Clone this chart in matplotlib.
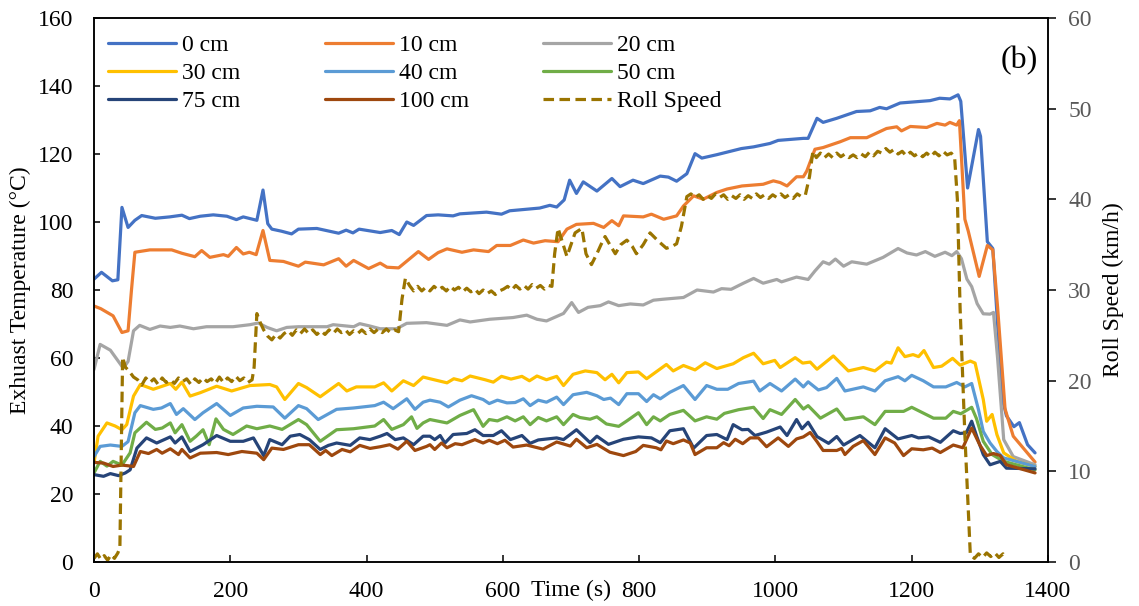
import matplotlib
matplotlib.use("Agg")
import matplotlib.pyplot as plt
import matplotlib.transforms as mtransforms

plt.rcParams["font.family"] = ["Liberation Serif", "DejaVu Serif"]

# Exhaust temperature (°C) at each probe distance: (time s, temperature)
probe_0cm = [
    (0, 83.2), (11, 85.2), (27, 82.7), (35, 83.0), (41, 104.3), (50, 98.4), (60, 100.5),
    (70, 101.9), (90, 101.1), (111, 101.5), (129, 102.0), (140, 101.0), (156, 101.7),
    (175, 102.1), (195, 101.7), (209, 100.7), (219, 101.5), (239, 100.5), (248, 109.4),
    (255, 99.5), (261, 97.9), (275, 97.3), (290, 96.5), (300, 97.9), (327, 98.1),
    (359, 96.7), (370, 97.6), (380, 96.8), (389, 97.9), (420, 96.9), (437, 97.5),
    (448, 96.3), (459, 100.0), (469, 99.0), (488, 101.9), (505, 102.1), (527, 101.8),
    (537, 102.4), (576, 102.9), (598, 102.3), (610, 103.3), (654, 104.1), (669, 104.9),
    (679, 104.4), (690, 106.5), (698, 112.3), (708, 108.4), (718, 111.8), (738, 109.1),
    (760, 112.8), (772, 110.4), (791, 112.3), (806, 111.3), (831, 113.5), (843, 113.2),
    (855, 112.0), (870, 114.2), (882, 120.1), (892, 118.8), (914, 119.8), (950, 121.6),
    (968, 122.1), (992, 123.1), (1004, 124.0), (1041, 124.6), (1048, 124.6), (1061, 130.5),
    (1070, 129.3), (1090, 130.5), (1119, 132.5), (1139, 132.7), (1153, 133.7),
    (1163, 133.3), (1183, 135.0), (1227, 135.7), (1241, 136.4), (1256, 136.2),
    (1268, 137.4), (1272, 135.5), (1282, 110.0), (1298, 127.2), (1301, 125.2),
    (1311, 94.2), (1319, 92.2), (1326, 70.0), (1333, 48.0), (1339, 43.0), (1350, 39.8),
    (1358, 41.0), (1370, 34.5), (1381, 32.1),
]

probe_10cm = [
    (0, 75.3), (10, 74.5), (28, 72.4), (41, 67.5), (50, 68.0), (55, 80.0), (60, 91.1),
    (82, 91.8), (114, 91.8), (129, 90.8), (148, 89.8), (158, 91.6), (170, 89.6),
    (190, 90.4), (197, 89.9), (209, 92.5), (219, 90.6), (228, 91.1), (238, 90.4),
    (248, 97.5), (258, 88.7), (278, 88.4), (300, 87.0), (310, 88.2), (337, 87.4),
    (359, 89.2), (370, 87.0), (381, 88.7), (403, 86.3), (420, 87.9), (430, 86.7),
    (447, 86.5), (476, 91.3), (491, 89.0), (505, 91.0), (518, 92.1), (540, 91.1),
    (557, 91.8), (579, 91.3), (591, 93.1), (611, 93.1), (630, 94.7), (645, 93.8),
    (662, 94.5), (681, 94.2), (694, 97.9), (708, 99.3), (733, 99.6), (748, 98.4),
    (760, 100.4), (770, 98.9), (777, 101.8), (806, 101.5), (818, 102.3), (836, 100.8),
    (855, 101.8), (865, 104.7), (880, 107.7), (894, 106.7), (914, 108.7), (929, 109.7),
    (951, 110.6), (982, 111.1), (997, 112.1), (1007, 111.6), (1017, 110.6), (1031, 113.3),
    (1041, 113.3), (1046, 115.0), (1058, 121.4), (1070, 121.9), (1095, 123.6),
    (1110, 124.8), (1134, 124.8), (1163, 127.5), (1178, 128.0), (1185, 126.8),
    (1198, 128.1), (1222, 127.8), (1237, 129.0), (1249, 128.5), (1256, 129.3),
    (1266, 128.5), (1270, 129.8), (1278, 100.8), (1283, 97.3), (1299, 84.0),
    (1311, 93.1), (1319, 91.8), (1326, 75.0), (1337, 45.0), (1349, 37.0), (1381, 29.4),
]

probe_20cm = [
    (0, 56.6), (9, 64.0), (24, 62.3), (43, 57.0), (50, 59.0), (58, 68.0), (67, 69.6),
    (82, 68.4), (97, 69.4), (112, 69.0), (126, 69.4), (146, 68.6), (165, 69.2),
    (204, 69.2), (229, 69.8), (241, 70.3), (254, 69.0), (268, 68.0), (283, 69.0),
    (300, 69.2), (342, 69.2), (351, 69.8), (381, 69.2), (390, 70.1), (405, 69.4),
    (420, 68.6), (444, 68.6), (459, 70.2), (488, 70.4), (518, 69.6), (537, 71.2),
    (552, 70.6), (581, 71.4), (615, 71.9), (635, 72.6), (650, 71.4), (664, 70.9),
    (689, 73.1), (701, 76.3), (711, 73.4), (725, 74.9), (743, 75.4), (755, 76.5),
    (770, 75.4), (787, 75.9), (806, 75.6), (821, 77.0), (836, 77.3), (865, 77.8),
    (885, 80.0), (909, 79.4), (921, 80.4), (935, 80.2), (953, 82.0), (968, 83.4),
    (982, 82.0), (1002, 83.1), (1009, 82.4), (1031, 83.8), (1048, 83.1), (1058, 85.6),
    (1070, 88.3), (1079, 87.6), (1088, 89.1), (1100, 87.0), (1112, 88.3), (1134, 87.6),
    (1158, 89.6), (1180, 92.2), (1193, 90.9), (1207, 90.3), (1220, 91.3), (1234, 89.9),
    (1249, 91.1), (1259, 90.1), (1266, 91.3), (1273, 89.2), (1281, 83.2), (1288, 81.0),
    (1296, 76.0), (1305, 73.0), (1315, 72.9), (1320, 73.4), (1326, 60.0), (1335, 36.0),
    (1349, 31.0), (1381, 28.6),
]

probe_30cm = [
    (0, 29.1), (6, 37.0), (19, 40.9), (31, 40.0), (41, 38.9), (48, 40.4), (58, 48.8),
    (68, 52.2), (87, 50.8), (112, 52.5), (120, 50.8), (129, 52.9), (141, 48.8),
    (156, 49.8), (180, 51.7), (202, 50.3), (229, 51.9), (258, 52.2), (268, 51.5),
    (280, 47.8), (300, 52.5), (312, 51.3), (332, 48.6), (359, 52.5), (371, 50.3),
    (385, 51.5), (412, 51.5), (425, 52.7), (437, 50.3), (454, 53.3), (469, 51.9),
    (483, 54.4), (493, 53.9), (518, 52.7), (528, 53.9), (540, 53.3), (552, 54.7),
    (574, 53.6), (586, 52.9), (598, 54.6), (612, 53.8), (628, 54.6), (639, 53.3),
    (650, 54.7), (664, 53.6), (679, 54.6), (689, 51.9), (703, 55.2), (721, 56.2),
    (738, 55.7), (750, 53.6), (760, 55.2), (770, 52.7), (782, 55.7), (799, 55.9),
    (811, 53.9), (840, 58.1), (850, 56.2), (865, 57.8), (882, 56.5), (897, 58.6),
    (914, 56.9), (938, 58.3), (953, 60.1), (968, 61.4), (982, 58.3), (999, 59.3),
    (1007, 57.2), (1029, 60.1), (1040, 58.5), (1051, 58.8), (1061, 56.7), (1085, 60.6),
    (1107, 56.2), (1129, 57.2), (1146, 56.2), (1163, 58.8), (1170, 58.5), (1180, 63.0),
    (1190, 60.4), (1202, 61.0), (1210, 60.4), (1218, 62.2), (1232, 57.2), (1244, 57.6),
    (1260, 59.9), (1271, 57.9), (1286, 59.1), (1293, 58.5), (1305, 47.8), (1310, 41.4),
    (1318, 43.4), (1325, 37.5), (1335, 32.1), (1354, 29.6), (1381, 28.1),
]

probe_40cm = [
    (0, 31.0), (9, 34.0), (24, 34.4), (41, 34.0), (50, 35.4), (60, 43.9), (68, 46.0),
    (87, 44.9), (99, 45.3), (112, 46.6), (121, 43.4), (131, 45.1), (148, 41.9),
    (160, 43.9), (180, 46.6), (200, 43.1), (219, 45.3), (239, 45.8), (263, 45.6),
    (280, 42.3), (300, 46.0), (312, 45.1), (329, 41.9), (356, 44.9), (381, 45.3),
    (412, 46.0), (425, 47.0), (439, 45.1), (459, 48.0), (471, 44.9), (483, 47.0),
    (493, 47.6), (508, 47.0), (520, 45.6), (537, 47.6), (554, 48.9), (571, 47.8),
    (580, 46.6), (592, 47.6), (606, 46.8), (618, 46.9), (630, 48.0), (640, 46.0),
    (652, 47.6), (664, 47.0), (679, 48.5), (689, 46.3), (703, 49.2), (723, 49.9),
    (738, 48.9), (748, 47.8), (758, 48.2), (770, 46.3), (782, 49.5), (799, 49.5),
    (811, 47.2), (821, 49.2), (831, 48.0), (845, 49.9), (865, 51.9), (882, 47.8),
    (899, 51.9), (914, 50.8), (930, 50.8), (946, 52.5), (968, 53.2), (977, 50.3),
    (992, 52.5), (1009, 50.3), (1029, 53.8), (1041, 51.5), (1048, 53.0), (1063, 50.6),
    (1075, 51.3), (1090, 54.0), (1102, 50.3), (1129, 51.5), (1146, 50.3), (1161, 53.3),
    (1180, 54.5), (1190, 53.3), (1200, 54.9), (1217, 53.3), (1232, 51.5), (1250, 51.5),
    (1266, 52.8), (1278, 51.5), (1288, 52.5), (1298, 44.8), (1305, 38.4), (1315, 35.0),
    (1325, 32.5), (1335, 30.6), (1381, 28.1),
]

probe_50cm = [
    (0, 26.2), (9, 29.6), (19, 28.2), (28, 29.6), (41, 28.5), (53, 32.1), (60, 38.0),
    (77, 41.1), (90, 39.0), (100, 39.4), (112, 40.9), (119, 38.0), (129, 40.4),
    (141, 35.5), (150, 37.0), (160, 38.9), (169, 34.5), (179, 42.1), (190, 39.0),
    (204, 37.5), (224, 40.0), (239, 39.2), (258, 40.0), (276, 39.0), (300, 41.9),
    (312, 40.4), (332, 35.5), (356, 38.9), (381, 39.2), (412, 40.0), (425, 41.9),
    (437, 39.0), (454, 40.4), (466, 42.7), (474, 39.3), (483, 40.9), (493, 41.9),
    (518, 40.9), (537, 43.1), (557, 44.8), (571, 39.9), (580, 41.9), (592, 41.5),
    (606, 42.7), (618, 41.5), (630, 42.7), (640, 40.4), (652, 42.5), (664, 41.5),
    (679, 42.7), (689, 40.4), (703, 43.4), (713, 42.5), (728, 42.0), (738, 42.7),
    (752, 40.6), (770, 39.9), (782, 41.5), (799, 43.9), (811, 40.4), (821, 42.7),
    (831, 41.5), (845, 43.4), (865, 44.6), (882, 41.5), (899, 42.7), (914, 42.0),
    (925, 43.7), (946, 44.8), (968, 45.5), (982, 42.2), (992, 44.8), (1009, 43.4),
    (1029, 47.8), (1041, 45.0), (1048, 46.0), (1066, 42.3), (1090, 45.0), (1102, 41.9),
    (1129, 42.7), (1146, 40.4), (1161, 44.3), (1188, 44.3), (1200, 45.5), (1232, 42.3),
    (1250, 42.3), (1261, 44.3), (1272, 43.6), (1288, 45.5), (1295, 42.2), (1305, 35.5),
    (1318, 31.6), (1335, 29.6), (1381, 27.1),
]

probe_75cm = [
    (0, 25.7), (14, 25.2), (24, 26.0), (36, 25.4), (46, 26.2), (53, 27.1), (63, 33.5),
    (77, 36.5), (92, 35.0), (112, 36.8), (119, 35.0), (129, 36.8), (141, 32.5),
    (160, 34.5), (180, 37.2), (200, 35.5), (219, 35.5), (234, 36.5), (249, 31.3),
    (258, 36.0), (276, 34.5), (288, 37.0), (302, 37.5), (316, 36.0), (332, 33.1),
    (344, 34.3), (356, 35.0), (376, 34.3), (390, 36.5), (405, 36.0), (420, 37.0),
    (430, 37.8), (442, 36.0), (454, 36.5), (469, 34.5), (483, 37.0), (493, 37.0),
    (500, 36.0), (508, 37.2), (515, 35.0), (527, 37.5), (547, 37.8), (559, 38.9),
    (571, 37.2), (586, 37.2), (598, 38.6), (611, 36.0), (628, 37.2), (640, 34.9),
    (652, 35.9), (679, 36.5), (689, 36.0), (708, 38.9), (728, 35.1), (738, 37.0),
    (755, 34.6), (777, 36.1), (799, 36.8), (818, 36.5), (831, 35.1), (845, 38.6),
    (865, 39.2), (880, 33.5), (899, 37.2), (914, 37.5), (929, 36.0), (938, 40.4),
    (951, 38.9), (960, 39.0), (970, 37.2), (987, 38.2), (1007, 39.7), (1017, 37.2),
    (1031, 41.9), (1039, 39.2), (1048, 41.1), (1061, 36.9), (1078, 34.9), (1090, 36.9),
    (1100, 34.4), (1124, 37.2), (1146, 33.6), (1161, 39.2), (1180, 36.2), (1200, 37.2),
    (1210, 36.5), (1225, 36.8), (1242, 35.2), (1261, 38.6), (1271, 37.8), (1280, 38.0),
    (1288, 41.4), (1295, 37.2), (1305, 31.6), (1315, 28.6), (1330, 29.6), (1339, 27.6),
    (1381, 27.4),
]

probe_100cm = [
    (0, 29.3), (14, 29.1), (28, 28.1), (41, 28.5), (50, 28.3), (58, 28.1), (68, 32.5),
    (80, 31.9), (92, 33.1), (100, 32.0), (112, 33.3), (124, 31.6), (129, 33.1),
    (141, 30.6), (156, 32.0), (180, 32.2), (197, 31.6), (217, 32.5), (239, 32.0),
    (249, 30.1), (261, 33.5), (278, 33.1), (300, 34.5), (316, 34.5), (332, 31.6),
    (340, 32.8), (349, 31.3), (364, 33.1), (376, 32.4), (390, 34.3), (405, 33.4),
    (420, 33.9), (434, 34.5), (446, 33.2), (459, 35.5), (471, 32.8), (488, 34.0),
    (493, 34.5), (500, 33.1), (510, 35.0), (518, 33.6), (530, 34.8), (540, 34.5),
    (559, 36.0), (571, 35.0), (580, 35.8), (592, 34.8), (603, 35.8), (615, 33.8),
    (635, 34.4), (659, 33.2), (679, 35.3), (699, 34.1), (708, 36.1), (723, 33.6),
    (738, 34.6), (757, 32.3), (777, 31.3), (795, 32.5), (806, 34.3), (825, 33.6),
    (832, 33.0), (840, 35.6), (850, 34.8), (865, 35.9), (875, 35.0), (882, 31.6),
    (899, 33.6), (914, 33.6), (924, 35.1), (932, 34.2), (941, 36.1), (952, 34.8),
    (963, 36.5), (975, 36.5), (987, 33.9), (1004, 36.5), (1019, 34.0), (1031, 36.2),
    (1041, 36.8), (1051, 38.1), (1061, 35.4), (1070, 32.8), (1090, 32.8), (1097, 33.4),
    (1102, 31.6), (1114, 34.0), (1129, 35.7), (1146, 31.6), (1161, 36.5), (1175, 35.0),
    (1188, 31.3), (1200, 33.3), (1217, 33.0), (1230, 33.5), (1242, 32.2), (1261, 34.4),
    (1275, 33.6), (1288, 39.4), (1300, 34.4), (1310, 31.3), (1320, 31.9), (1330, 31.3),
    (1339, 28.6), (1381, 26.2),
]

# Roll speed (km/h): (time s, speed)
roll_speed = [
    (0, 0.4), (5, 0.9), (10, 0.3), (15, 0.7), (20, 0.2), (25, 0.8), (30, 0.4), (35, 1.0),
    (38, 1.6), (42, 22.6), (46, 21.5), (52, 21.0), (58, 20.4), (64, 20.1), (70, 19.5),
    (76, 20.3), (82, 19.8), (88, 20.2), (94, 19.6), (100, 20.3), (106, 19.8), (112, 20.1),
    (118, 19.7), (124, 20.3), (130, 19.9), (136, 20.2), (142, 19.6), (148, 20.2),
    (154, 19.8), (160, 20.3), (166, 19.9), (172, 20.2), (178, 19.7), (184, 20.4),
    (190, 19.8), (196, 20.3), (202, 19.9), (208, 20.5), (214, 20.0), (220, 20.3),
    (226, 19.8), (232, 20.1), (235, 21.5), (239, 27.4), (244, 26.4), (249, 25.6),
    (255, 24.9), (261, 24.5), (267, 25.1), (273, 24.7), (279, 25.2), (285, 25.5),
    (291, 25.0), (297, 25.6), (303, 25.2), (309, 25.7), (315, 25.2), (321, 25.6),
    (327, 25.1), (333, 25.5), (339, 25.1), (345, 25.6), (351, 25.2), (357, 25.7),
    (363, 25.3), (369, 25.6), (375, 25.1), (381, 25.5), (387, 25.2), (393, 25.6),
    (399, 25.2), (405, 25.7), (411, 25.3), (417, 25.7), (423, 25.3), (429, 25.7),
    (435, 25.3), (441, 25.6), (447, 25.4), (452, 29.0), (457, 31.3), (463, 30.5),
    (469, 29.9), (475, 30.4), (481, 29.9), (487, 30.3), (493, 29.9), (499, 30.4),
    (505, 30.0), (511, 30.3), (517, 29.9), (523, 30.4), (529, 30.0), (535, 30.3),
    (541, 29.8), (547, 30.2), (553, 29.8), (559, 30.1), (565, 29.6), (571, 30.0),
    (577, 29.6), (583, 29.9), (589, 29.5), (595, 29.9), (601, 30.1), (607, 30.4),
    (613, 30.0), (619, 30.5), (625, 30.1), (631, 30.5), (637, 30.1), (643, 30.6),
    (649, 30.2), (655, 30.5), (661, 30.1), (667, 30.5), (672, 30.4), (676, 34.0),
    (681, 36.8), (686, 35.6), (694, 33.7), (700, 35.0), (706, 36.3), (716, 36.8),
    (722, 34.0), (730, 32.8), (738, 34.0), (744, 35.0), (750, 35.9), (757, 35.0),
    (765, 34.0), (773, 35.0), (782, 35.5), (790, 34.8), (796, 34.0), (806, 35.0),
    (816, 36.3), (828, 35.4), (840, 34.6), (848, 34.8), (855, 35.1), (862, 37.0),
    (870, 40.3), (876, 40.6), (882, 40.2), (888, 40.5), (894, 40.0), (900, 40.4),
    (906, 40.1), (912, 40.6), (918, 40.2), (924, 40.5), (930, 40.0), (936, 40.4),
    (942, 40.1), (948, 40.5), (954, 40.0), (960, 40.4), (966, 40.1), (972, 40.6),
    (978, 40.2), (984, 40.5), (990, 40.1), (996, 40.5), (1002, 40.2), (1008, 40.6),
    (1014, 40.2), (1020, 40.5), (1026, 40.1), (1032, 40.6), (1038, 40.3), (1044, 40.5),
    (1050, 42.5), (1055, 45.3), (1060, 44.6), (1066, 45.1), (1072, 44.6), (1078, 45.0),
    (1084, 44.6), (1090, 45.1), (1096, 44.7), (1102, 45.0), (1108, 44.6), (1114, 44.9),
    (1120, 44.6), (1126, 45.0), (1132, 44.7), (1138, 45.2), (1144, 44.8), (1150, 45.3),
    (1156, 45.1), (1162, 45.6), (1168, 45.2), (1174, 45.5), (1180, 45.0), (1186, 45.3),
    (1192, 44.8), (1198, 45.2), (1204, 44.8), (1210, 45.1), (1216, 44.7), (1222, 45.1),
    (1228, 44.7), (1234, 45.2), (1240, 44.8), (1246, 45.3), (1252, 44.9), (1258, 45.1),
    (1263, 44.6), (1267, 40.0), (1271, 28.0), (1278, 14.0), (1286, 0.8), (1292, 0.4),
    (1298, 0.9), (1304, 0.5), (1310, 1.0), (1316, 0.6), (1322, 1.0), (1328, 0.5),
    (1334, 0.9), (1338, 0.5),
]

labels = ["0 cm", "10 cm", "20 cm", "30 cm", "40 cm", "50 cm", "75 cm", "100 cm"]
series = [probe_0cm, probe_10cm, probe_20cm, probe_30cm, probe_40cm, probe_50cm,
          probe_75cm, probe_100cm]
colors = ["#4472C4", "#ED7D31", "#A5A5A5", "#FFC000", "#5B9BD5", "#70AD47",
          "#264478", "#9E480E"]
speed_color = "#9A7400"

FS = 17
LW = 2.3

fig = plt.figure(figsize=(11.39, 6.06), dpi=100)
ax = fig.add_axes([94 / 1139, 1 - 562 / 606, 954 / 1139, 544 / 606])
ax2 = ax.twinx()

handles = {}
for lab, data, col in zip(labels, series, colors):
    t, v = zip(*data)
    ln, = ax.plot(t, v, color=col, lw=LW, solid_joinstyle="round",
                  solid_capstyle="round")
    handles[lab] = ln

ts, vs = zip(*roll_speed)
sp, = ax2.plot(ts, vs, color=speed_color, lw=LW, dashes=(3.3, 1.7))
handles["Roll Speed"] = sp

ax.set_xlim(0, 1400)
ax.set_ylim(0, 160)
ax2.set_ylim(0, 60)
ax.set_xticks(range(0, 1401, 200))
ax.set_yticks(range(0, 161, 20))
ax2.set_yticks(range(0, 61, 10))

for a in (ax, ax2):
    for s in a.spines.values():
        s.set_linewidth(1.1)
        s.set_color("black")

ax.tick_params(axis="x", direction="in", length=5, width=1.1, labelsize=FS, pad=14)
ax.tick_params(axis="y", direction="in", length=4.5, width=1.1, labelsize=FS, pad=15)
ax2.tick_params(axis="y", direction="out", length=5.5, width=1.1, labelsize=FS,
                pad=9, labelcolor="#595959")

ax.set_ylabel("Exhuast Temperature (°C)", fontsize=FS)
ax.yaxis.set_label_coords(-0.066, 0.5)
ax2.set_ylabel("Roll Speed (km/h)", fontsize=FS)
ax2.yaxis.set_label_coords(1.0575, 0.5)

trans = mtransforms.blended_transform_factory(ax.transData, ax.transAxes)
ax.text(700, -0.053, "Time (s)", transform=trans, ha="center", va="center", fontsize=FS)

ax.text(0.989, 0.921, "(b)", transform=ax.transAxes, ha="right", va="center",
        fontsize=23)

# legend: three columns placed side by side
columns = [["0 cm", "30 cm", "75 cm"],
           ["10 cm", "40 cm", "100 cm"],
           ["20 cm", "50 cm", "Roll Speed"]]
col_x = [0.0147, 0.2421, 0.4706]
for i, (names, x0) in enumerate(zip(columns, col_x)):
    leg = ax.legend([handles[n] for n in names], names, loc="upper left",
                    bbox_to_anchor=(x0, 0.970), frameon=False, fontsize=FS,
                    handlelength=2.9, handletextpad=0.25, labelspacing=0.28,
                    borderpad=0, borderaxespad=0)
    if i < 2:
        ax.add_artist(leg)

fig.savefig("out.png", dpi=100)
